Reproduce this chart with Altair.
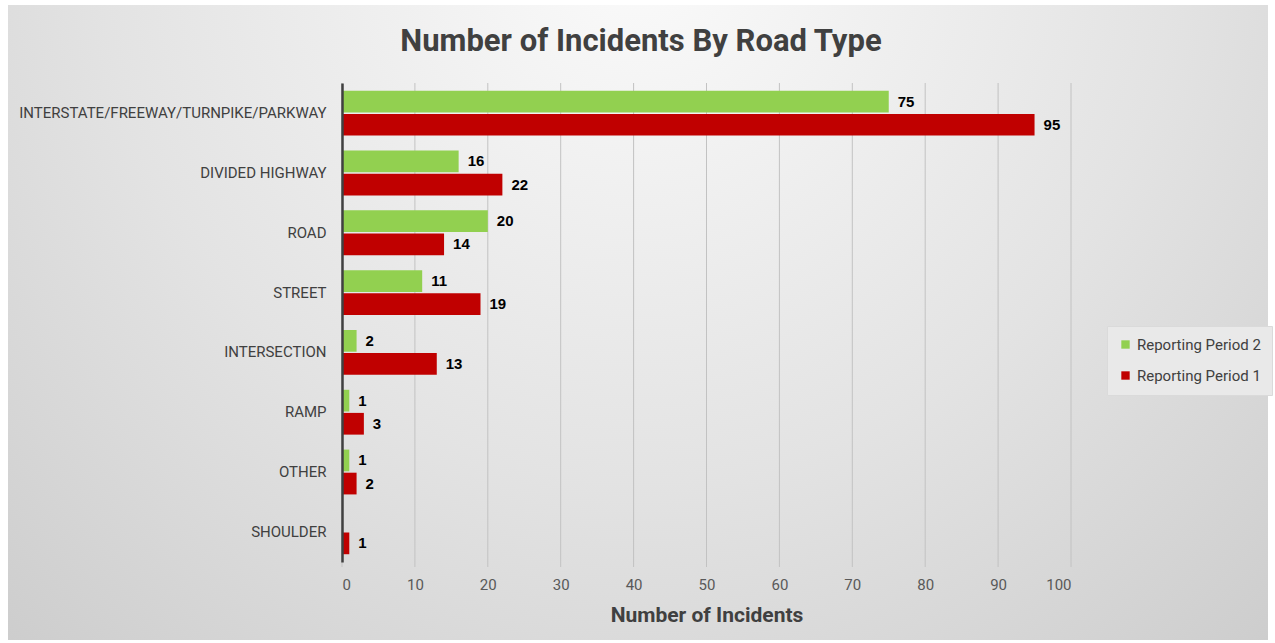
import altair as alt
import pandas as pd

categories = ["INTERSTATE/FREEWAY/TURNPIKE/PARKWAY", "DIVIDED HIGHWAY", "ROAD", "STREET",
              "INTERSECTION", "RAMP", "OTHER", "SHOULDER"]
period2 = [75, 16, 20, 11, 2, 1, 1, 0]
period1 = [95, 22, 14, 19, 13, 3, 2, 1]
series = ["Reporting Period 2", "Reporting Period 1"]
colors = ["#92D050", "#C00000"]
x_ticks = [0, 10, 20, 30, 40, 50, 60, 70, 80, 90, 100]
chart_title = "Number of Incidents By Road Type"

rows = []
for c, a, b in zip(categories, period2, period1):
    rows.append({"cat": c, "series": series[0], "value": a})
    rows.append({"cat": c, "series": series[1], "value": b})
df = pd.DataFrame(rows)

W, H = 729, 479
PL, PT, PR, PB = 342, 83, 204, 81
FONT = "Roboto"

bg = alt.Chart(pd.DataFrame({"a": [0]})).mark_rect(
    fill={"gradient": "radial", "x1": 0.5, "y1": 0.2, "x2": 0.5, "y2": 0.2,
          "r1": 0, "r2": 0.85,
          "stops": [{"offset": 0, "color": "#fbfbfb"},
                    {"offset": 0.5, "color": "#e3e3e3"},
                    {"offset": 1, "color": "#c6c6c6"}]},
    clip=False
).encode(
    x=alt.value(-PL + 8), x2=alt.value(W + PR - 7),
    y=alt.value(-PT + 5), y2=alt.value(H + PB - 3)
)

x_scale = alt.Scale(domain=[0, 100])
x_axis = alt.Axis(values=x_ticks, title="Number of Incidents", grid=False, zindex=1,
                  domain=False, ticks=False,
                  labelFont=FONT, labelFontSize=15,
                  labelColor="#595959", labelPadding=15,
                  titleFont=FONT, titleFontSize=21,
                  titleFontWeight="bold", titleColor="#404040", titlePadding=12)

grid = alt.Chart(pd.DataFrame({"t": x_ticks})).mark_rule(color="#c2c2c2", strokeWidth=1).encode(
    x=alt.X("t:Q", scale=x_scale, axis=x_axis),
    y=alt.value(0), y2=alt.value(H + 5)
)

y_enc = alt.Y("cat:N", sort=categories,
              scale=alt.Scale(paddingInner=0.25, paddingOuter=0.13),
              axis=alt.Axis(title=None, ticks=False, domainColor="#404040", domainWidth=2.5,
                            zindex=1, labelFont=FONT, labelFontSize=15,
                            labelColor="#404040", labelPadding=16, labelLimit=400))
yoff = alt.YOffset("series:N", sort=series, scale=alt.Scale(paddingInner=0.06))

bars = alt.Chart(df).mark_bar().encode(
    x=alt.X("value:Q", scale=x_scale, axis=x_axis), y=y_enc, yOffset=yoff,
    color=alt.Color("series:N", sort=series,
                    scale=alt.Scale(domain=series, range=colors),
                    legend=alt.Legend(title=None, orient="none", legendX=765, legendY=243,
                                      symbolType="square", symbolSize=70,
                                      labelFont=FONT, labelFontSize=15,
                                      labelColor="#404040", rowPadding=15,
                                      fillColor="#e9e9e9", strokeColor="#dadada",
                                      padding=11, zindex=1))
)

labels = alt.Chart(df).transform_filter("datum.value > 0").mark_text(
    align="left", baseline="middle", dx=9, font="Liberation Sans", fontSize=15,
    fontWeight="bold", color="#000000"
).encode(x=alt.X("value:Q", scale=x_scale, axis=x_axis),
         y=alt.Y("cat:N", sort=categories), yOffset=yoff, text="value:Q")

title = alt.Chart(pd.DataFrame({"t": [chart_title]})).mark_text(
    font=FONT, fontSize=31, fontWeight="bold", color="#404040",
    align="center", baseline="alphabetic"
).encode(x=alt.value(641 - PL), y=alt.value(51 - PT), text="t:N")

chart = alt.layer(bg, grid, bars, labels, title).properties(
    width=W, height=H,
    autosize=alt.AutoSizeParams(type="none"),
    padding={"left": PL, "top": PT, "right": PR, "bottom": PB},
    background="white"
).configure_view(stroke=None)

chart.save("out.html", embed_options={"renderer": "svg", "actions": False})
